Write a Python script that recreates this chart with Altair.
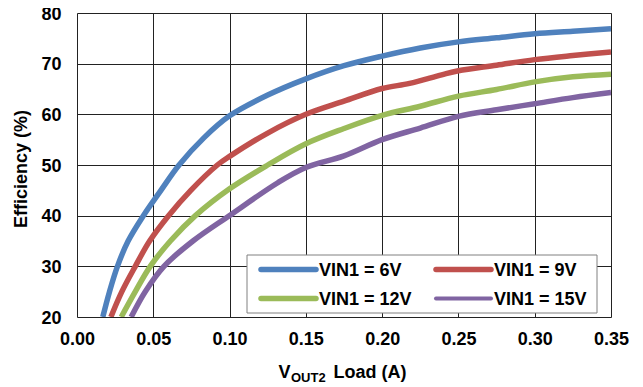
import altair as alt
import pandas as pd

series = ["VIN1 = 6V", "VIN1 = 9V", "VIN1 = 12V", "VIN1 = 15V"]
colors = ["#4F81BD", "#C0504D", "#9BBB59", "#8064A2"]
widths = [5.5, 5.5, 5.5, 4]

load_6 = [0.0169, 0.0213, 0.0265, 0.0335, 0.0435, 0.055, 0.0669, 0.0833, 0.1, 0.125, 0.15, 0.175, 0.2, 0.225, 0.25, 0.275, 0.3, 0.325, 0.35]
eff_6 = [20, 25, 30, 35, 40, 45.0, 50, 55.4, 59.7, 63.8, 67.0, 69.6, 71.5, 73.1, 74.3, 75.1, 75.9, 76.4, 76.9]

load_9 = [0.0222, 0.0294, 0.0382, 0.0476, 0.06, 0.0746, 0.092, 0.1, 0.125, 0.15, 0.175, 0.2, 0.218, 0.239, 0.25, 0.275, 0.3, 0.325, 0.35]
eff_9 = [20, 25, 30, 35, 40, 45.0, 50, 51.7, 56.3, 60, 62.6, 65.1, 66.1, 67.8, 68.6, 69.7, 70.8, 71.6, 72.3]

load_12 = [0.029, 0.0382, 0.048, 0.0612, 0.0776, 0.1, 0.125, 0.15, 0.175, 0.2, 0.225, 0.25, 0.275, 0.3, 0.325, 0.35]
eff_12 = [20, 25, 30, 35, 40, 45.3, 50, 54.2, 57.2, 59.8, 61.6, 63.6, 64.9, 66.4, 67.4, 67.9]

load_15 = [0.0355, 0.0447, 0.057, 0.076, 0.0998, 0.1316, 0.15, 0.175, 0.2, 0.225, 0.25, 0.275, 0.3, 0.325, 0.35]
eff_15 = [20, 25, 30, 35, 40, 46.5, 49.5, 51.8, 55.0, 57.3, 59.6, 60.9, 62.1, 63.3, 64.3]

x_ticks = [0.0, 0.05, 0.1, 0.15, 0.2, 0.25, 0.3, 0.35]
y_ticks = [20, 30, 40, 50, 60, 70, 80]

rows = []
for name, xs, ys in zip(series, [load_6, load_9, load_12, load_15], [eff_6, eff_9, eff_12, eff_15]):
    for i, (a, b) in enumerate(zip(xs, ys)):
        rows.append({"series": name, "load": a, "eff": b, "order": i})
df = pd.DataFrame(rows)
one = pd.DataFrame({"k": [0]})

FONT = "Liberation Sans"
FS = 18

axis_common = dict(grid=True, labelFontSize=FS, labelFont=FONT, labelFontWeight="bold",
                   labelColor="#000", tickSize=0, domain=False, labelFlush=False,
                   gridColor="#222", gridWidth=1, gridOpacity=1, title=None)

lines = alt.Chart(df).mark_line(interpolate="catmull-rom", clip=True, strokeCap="butt").encode(
    x=alt.X("load:Q", scale=alt.Scale(domain=[0, 0.35], nice=False),
            axis=alt.Axis(values=x_ticks, format=".2f", labelPadding=13, **axis_common)),
    y=alt.Y("eff:Q", scale=alt.Scale(domain=[20, 80], nice=False),
            axis=alt.Axis(values=y_ticks, labelPadding=16, labelOffset=1, **axis_common)),
    color=alt.Color("series:N", scale=alt.Scale(domain=series, range=colors), legend=None),
    strokeWidth=alt.StrokeWidth("series:N", scale=alt.Scale(domain=series, range=widths), legend=None),
    order="order:Q",
)

def txt(s, x, y, size=FS, align="left", baseline="alphabetic", angle=0):
    return alt.Chart(one).mark_text(font=FONT, fontSize=size, fontWeight="bold", color="#000",
                                    align=align, baseline=baseline, angle=angle).encode(
        x=alt.value(x), y=alt.value(y), text=alt.value(s))

ytitle = txt("Efficiency (%)", -55, 156, align="center", baseline="middle", angle=270)
xt_v = txt("V", 201.5, 365)
xt_sub = txt("OUT2", 214, 369, size=13)
xt_rest = txt("Load (A)", 256.5, 365)

# legend box
leg_box = alt.Chart(one).mark_rect(fill="white", stroke="#808080", strokeWidth=1).encode(
    x=alt.value(170), x2=alt.value(520), y=alt.value(242), y2=alt.value(300))

leg_layers = []
col_x = [184, 359]
row_y = [256.5, 285.5]
for i, name in enumerate(series):
    cx = col_x[i % 2]
    cy = row_y[i // 2]
    leg_layers.append(
        alt.Chart(one).mark_rule(color=colors[i], strokeWidth=widths[i], strokeCap="round").encode(
            x=alt.value(cx), x2=alt.value(cx + 55), y=alt.value(cy)))
    leg_layers.append(txt(name, cx + 58, cy + 1, baseline="middle"))

chart = alt.layer(lines, leg_box, *leg_layers, ytitle, xt_v, xt_sub, xt_rest).properties(
    width=534, height=304,
    autosize=alt.AutoSizeParams(type="none"),
    padding={"left": 69, "top": 5, "right": 24, "bottom": 66},
).configure_view(stroke="#000", strokeWidth=1.5).configure(background="white")

chart.save("out.html", embed_options={"renderer": "svg", "actions": False})
